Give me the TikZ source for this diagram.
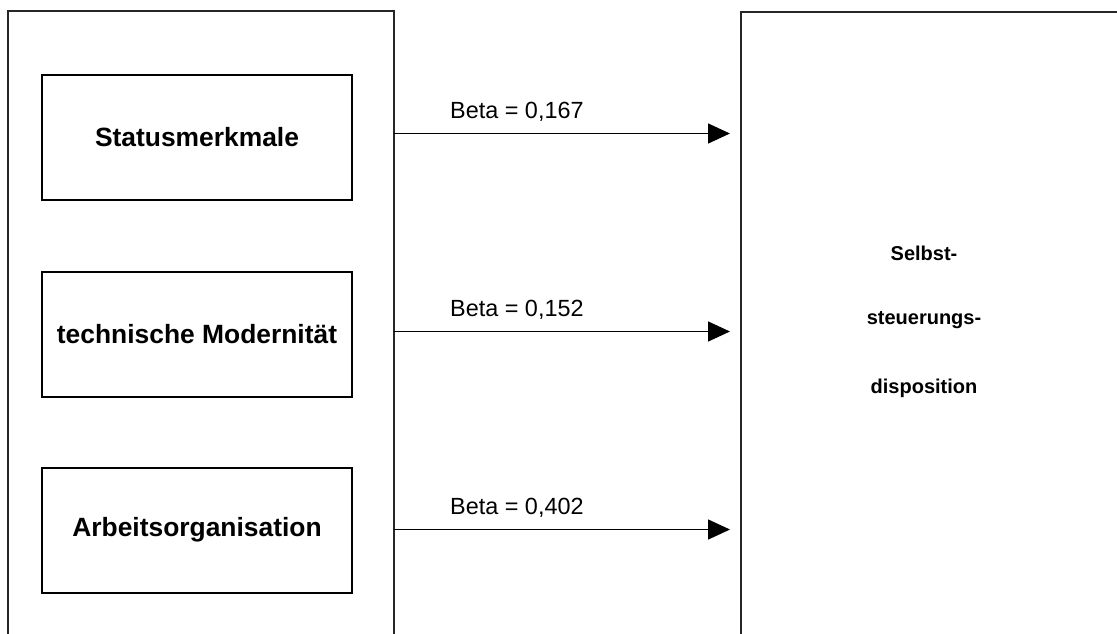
\documentclass[tikz,border=0pt]{standalone}
\usepackage{fontspec}
\setmainfont{Liberation Sans}
\usetikzlibrary{arrows.meta}
\begin{document}
\begin{tikzpicture}[x=1pt,y=-1pt,
  frame/.style={line width=2pt, draw=black!85},
  inbox/.style={draw, line width=2pt, minimum width=310pt, minimum height=125pt, inner sep=0pt, font=\fontsize{26.4}{30}\selectfont\bfseries},
  betalabel/.style={font=\fontsize{23.4}{27}\selectfont, anchor=base west, inner sep=0pt},
  rightlabel/.style={font=\fontsize{20}{24}\selectfont\bfseries, inner sep=0pt},
  conn/.style={line width=1.5pt, -{Triangle[length=22pt,width=20pt]}}]
\useasboundingbox (0,0) rectangle (1117,634);
% outer frames (open at the bottom)
\draw[frame] (7.5,640) -- (7.5,11) -- (394,11) -- (394,640);
\draw[frame] (741,640) -- (741,12.5) -- (1125,12.5);
% inner boxes
\node[inbox] (s) at (197,137.5) {Statusmerkmale};
\node[inbox] (t) at (197,334) {technische Modernität};
\node[inbox] (a) at (197,530) {Arbeitsorganisation};
% arrow coordinates
\coordinate (s0) at (394,133.5);
\coordinate (s1) at (730,133.5);
\coordinate (t0) at (394,331.5);
\coordinate (t1) at (730,331.5);
\coordinate (a0) at (394,529.5);
\coordinate (a1) at (730,529.5);
\draw[conn] (s0) -- (s1);
\draw[conn] (t0) -- (t1);
\draw[conn] (a0) -- (a1);
\node[betalabel] (b1) at (450,118) {Beta = 0,167};
\node[betalabel] (b2) at (450,316) {Beta = 0,152};
\node[betalabel] (b3) at (450,514) {Beta = 0,402};
% right box text
\node[rightlabel] (r1) at (924,253) {Selbst-};
\node[rightlabel] (r2) at (924,320) {steuerungs-};
\node[rightlabel] (r3) at (924,388) {disposition};
\end{tikzpicture}
\end{document}
